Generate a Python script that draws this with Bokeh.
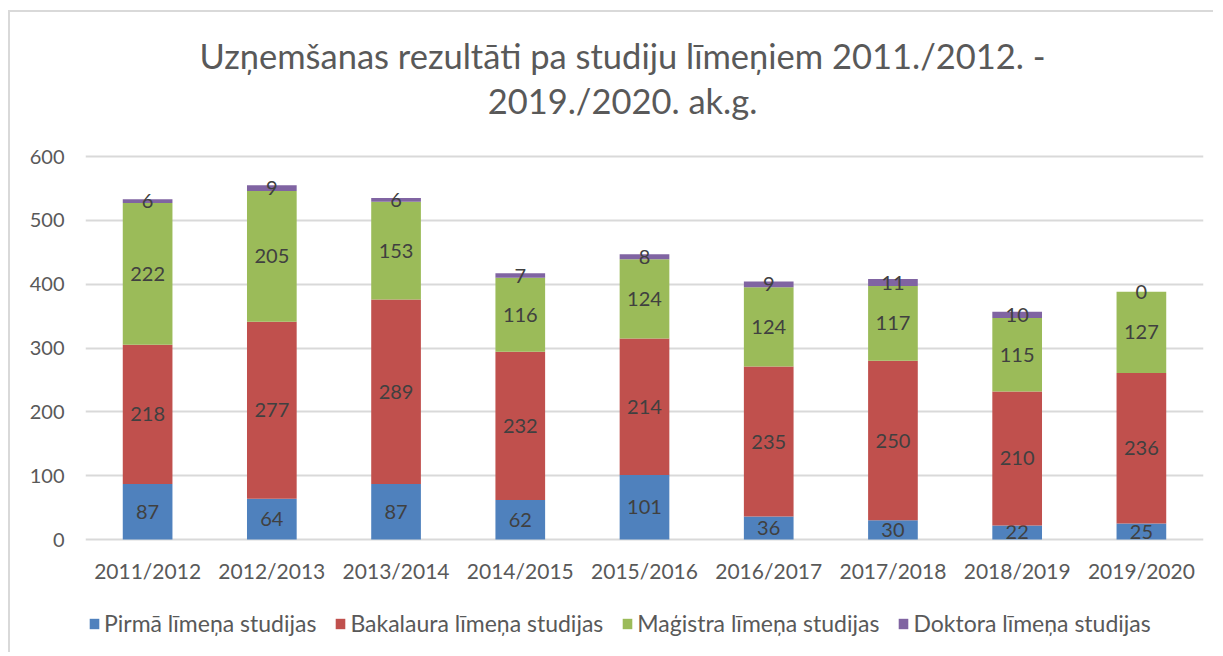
from bokeh.plotting import figure
from bokeh.models import ColumnDataSource, Legend, LegendItem, Range1d, FactorRange, Label
from bokeh.embed import file_html
from bokeh.resources import INLINE
from bokeh.core.properties import value

years = ["2011/2012", "2012/2013", "2013/2014", "2014/2015", "2015/2016",
         "2016/2017", "2017/2018", "2018/2019", "2019/2020"]
pirma = [87, 64, 87, 62, 101, 36, 30, 22, 25]
bakalaura = [218, 277, 289, 232, 214, 235, 250, 210, 236]
magistra = [222, 205, 153, 116, 124, 124, 117, 115, 127]
doktora = [6, 9, 6, 7, 8, 9, 11, 10, 0]
series_names = ["Pirmā līmeņa studijas", "Bakalaura līmeņa studijas",
                "Maģistra līmeņa studijas", "Doktora līmeņa studijas"]
colors = ["#4F81BD", "#C0504D", "#9BBB59", "#8064A2"]
y_ticks = [0, 100, 200, 300, 400, 500, 600]
title_line1 = "Uzņemšanas rezultāti pa studiju līmeņiem 2011./2012. -"
title_line2 = "2019./2020. ak.g."

FONT = "Lato"
FRAME_H = 640
# value range chosen so that 0..600 occupies the plot band; room above for the
# title and below for category labels and the legend
y_lo, y_hi = -177.0, 825.6

p = figure(x_range=FactorRange(*years), y_range=Range1d(y_lo, y_hi),
           frame_width=1118, frame_height=FRAME_H, output_backend="svg", toolbar_location=None,
           min_border_left=75, min_border_right=10, min_border_top=0, min_border_bottom=0)
p.styles = {"margin-left": "8px", "margin-top": "10px",
            "border-left": "2px solid #d9d9d9", "border-top": "2px solid #d9d9d9"}

for txt, yy in ((title_line1, FRAME_H - 43), (title_line2, FRAME_H - 88)):
    p.add_layout(Label(x=537, y=yy, x_units="screen", y_units="screen", text=txt,
                       text_align="center", text_baseline="middle", text_font=FONT,
                       text_font_size="34.5px", text_color="#595959"))

series = [pirma, bakalaura, magistra, doktora]
bottom = [0] * len(years)
items = []
for name, vals, col in zip(series_names, series, colors):
    top = [b + v for b, v in zip(bottom, vals)]
    mid = [(b + t) / 2 for b, t in zip(bottom, top)]
    src = ColumnDataSource(dict(x=years, bottom=bottom, top=top, mid=mid,
                                lab=[str(v) for v in vals]))
    r = p.vbar(x="x", bottom="bottom", top="top", width=0.4, source=src,
               fill_color=col, line_color=None)
    items.append(LegendItem(label=name, renderers=[r]))
    p.text(x="x", y="mid", text="lab", source=src, text_align="center",
           text_baseline="middle", text_font=value(FONT), text_font_size="20px",
           text_color="#404040")
    bottom = top

# category labels under the zero line
cat_src = ColumnDataSource(dict(x=years, y=[0] * len(years)))
p.text(x="x", y="y", text="x", source=cat_src, y_offset=31, text_align="center",
       text_baseline="middle", text_font=value(FONT), text_font_size="21px",
       text_color="#595959")

legend = Legend(items=items, orientation="horizontal", location=(3, 15),
                label_text_font=FONT, label_text_font_size="23px",
                label_text_color="#595959", glyph_width=12, glyph_height=13,
                spacing=18, label_standoff=4, border_line_color=None,
                background_fill_alpha=0, margin=0, padding=0)
p.add_layout(legend, "center")

p.xgrid.grid_line_color = None
p.ygrid.grid_line_color = "#d9d9d9"
p.ygrid.grid_line_width = 2
p.yaxis.ticker = y_ticks
p.yaxis.axis_line_color = None
p.yaxis.major_tick_line_color = None
p.yaxis.minor_tick_line_color = None
p.yaxis.major_label_text_font = FONT
p.yaxis.major_label_text_font_size = "20px"
p.yaxis.major_label_text_color = "#595959"
p.yaxis.major_label_standoff = 15
p.xaxis.visible = False
p.outline_line_color = None

open("out.html", "w").write(file_html(p, INLINE))
